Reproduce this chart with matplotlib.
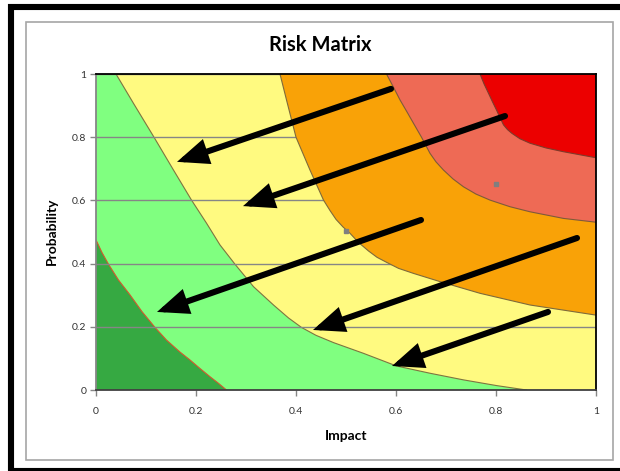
import matplotlib.pyplot as plt
from matplotlib.lines import Line2D
from matplotlib.patches import Rectangle

plt.rcParams['font.family'] = ['Lato', 'DejaVu Sans']

# zone colours, lowest risk first
zone_colors = ['#36A942', '#80FF80', '#FFFA80', '#F9A207', '#EE6A55', '#EC0000']
edge_colors = ['#D4582E', '#7F7440', '#7F6A3A', '#7F5A3A', '#7F3A2A']

# zone boundaries (impact, probability), one per colour change
b1_x = [0.0, 0.012, 0.025, 0.045, 0.068, 0.092, 0.118, 0.141, 0.168, 0.188, 0.208, 0.228, 0.245, 0.261]
b1_y = [0.475, 0.435, 0.398, 0.348, 0.301, 0.248, 0.198, 0.158, 0.12, 0.095, 0.068, 0.042, 0.021, 0.0]

b2_x = [0.04, 0.075, 0.116, 0.155, 0.191, 0.221, 0.248, 0.278, 0.315, 0.355,
        0.385, 0.411, 0.44, 0.475, 0.535, 0.601, 0.668, 0.735, 0.801, 0.861]
b2_y = [1.0, 0.907, 0.80, 0.696, 0.601, 0.528, 0.459, 0.398, 0.327, 0.269,
        0.228, 0.198, 0.173, 0.15, 0.116, 0.076, 0.053, 0.032, 0.014, 0.0]

b3_x = [0.368, 0.381, 0.40, 0.428, 0.455, 0.468, 0.48, 0.494, 0.508, 0.525,
        0.545, 0.562, 0.58, 0.605, 0.635, 0.688, 0.768, 0.868, 1.0]
b3_y = [1.0, 0.918, 0.80, 0.696, 0.601, 0.568, 0.54, 0.516, 0.496, 0.467,
        0.44, 0.42, 0.405, 0.385, 0.369, 0.343, 0.306, 0.269, 0.237]

b4_x = [0.581, 0.595, 0.608, 0.622, 0.635, 0.651, 0.668, 0.68, 0.695, 0.714,
        0.735, 0.76, 0.788, 0.828, 0.868, 0.935, 1.0]
b4_y = [1.0, 0.958, 0.918, 0.88, 0.844, 0.80, 0.749, 0.722, 0.696, 0.668,
        0.643, 0.62, 0.601, 0.58, 0.564, 0.543, 0.531]

b5_x = [0.768, 0.776, 0.785, 0.793, 0.801, 0.808, 0.815, 0.823, 0.832, 0.848, 0.868, 0.9, 0.935, 1.0]
b5_y = [1.0, 0.969, 0.939, 0.912, 0.886, 0.862, 0.839, 0.824, 0.812, 0.795, 0.781, 0.766, 0.754, 0.735]

boundaries = [(b1_x, b1_y), (b2_x, b2_y), (b3_x, b3_y), (b4_x, b4_y), (b5_x, b5_y)]

# arrows: tail -> head
arrow_tail = [(0.59, 0.953), (0.818, 0.867), (0.65, 0.538), (0.962, 0.481), (0.904, 0.247)]
arrow_head = [(0.162, 0.722), (0.294, 0.582), (0.122, 0.247), (0.434, 0.19), (0.592, 0.076)]

# stray series points
pts_x = [0.5, 0.8]
pts_y = [0.503, 0.652]

ticks = [0, 0.2, 0.4, 0.6, 0.8, 1]
tick_labels = ['0', '0.2', '0.4', '0.6', '0.8', '1']

W, H = 620, 471
fig = plt.figure(figsize=(W / 100, H / 100), dpi=100)
fig.patch.set_facecolor('white')

# outer black frame (left, top, bottom) and grey chart border
frame = dict(color='black', linewidth=4.4, transform=fig.transFigure, solid_capstyle='butt')
fig.lines.append(Line2D([11 / W, 11 / W], [0, 1 - 4 / H], **frame))
fig.lines.append(Line2D([8 / W, 1], [1 - 7 / H, 1 - 7 / H], **frame))
fig.lines.append(Line2D([8 / W, 1], [1 - 471 / H, 1 - 471 / H], **frame))
fig.patches.append(Rectangle((26 / W, 1 - 460 / H), 587 / W, 438 / H,
                             transform=fig.transFigure, fill=False,
                             edgecolor='#A6A6A6', linewidth=1.2, zorder=0))

ax = fig.add_axes([96 / W, 1 - 390 / H, 500 / W, 316 / H])
ax.set_xlim(0, 1)
ax.set_ylim(0, 1)
ax.set_facecolor(zone_colors[0])

for i, (bx, by) in enumerate(boundaries):
    px = list(bx)
    py = list(by)
    if by[-1] == 0:
        px.append(1.0)
        py.append(0.0)
    px.append(1.0)
    py.append(1.0)
    if bx[0] == 0:
        px.append(0.0)
        py.append(1.0)
    ax.fill(px, py, color=zone_colors[i + 1], lw=0, zorder=1 + i)
    ax.plot(bx, by, color=edge_colors[i], lw=0.8, zorder=1.5 + i)

ax.set_yticks(ticks)
ax.set_yticklabels(tick_labels)
ax.set_xticks(ticks)
ax.set_xticklabels(tick_labels)
ax.yaxis.grid(True, color='#868686', lw=1)
ax.set_axisbelow(False)
for gl in ax.get_ygridlines():
    gl.set_zorder(8)

ax.plot(pts_x, pts_y, 's', color='#7F7F7F', markersize=2.2, zorder=9)

for (tx, ty), (hx, hy) in zip(arrow_tail, arrow_head):
    ax.annotate('', xy=(hx, hy), xytext=(tx, ty),
                arrowprops=dict(arrowstyle='-|>,head_length=1.5,head_width=0.62',
                                mutation_scale=10, lw=4.4, color='black',
                                shrinkA=0, shrinkB=0, joinstyle='miter'),
                zorder=10)

ax.tick_params(axis='both', direction='out', length=4, width=1, color='#868686',
               labelsize=7.5, labelcolor='#333333')
ax.tick_params(axis='x', pad=8)
ax.tick_params(axis='y', pad=3)
ax.spines['left'].set_color('#868686')
ax.spines['bottom'].set_color('#404040')
ax.spines['top'].set_color('black')
ax.spines['right'].set_color('black')
for s in ax.spines.values():
    s.set_linewidth(1.3)
    s.set_zorder(12)

fig.text(320 / W, 1 - 45 / H, 'Risk Matrix', ha='center', va='center',
         fontsize=14.5, fontweight='bold')
fig.text(346 / W, 1 - 436 / H, 'Impact', ha='center', va='center',
         fontsize=10, fontweight='bold')
fig.text(52 / W, 1 - 231 / H, 'Probability', ha='center', va='center',
         rotation=90, fontsize=10, fontweight='bold')

fig.savefig('out.png', dpi=100)
